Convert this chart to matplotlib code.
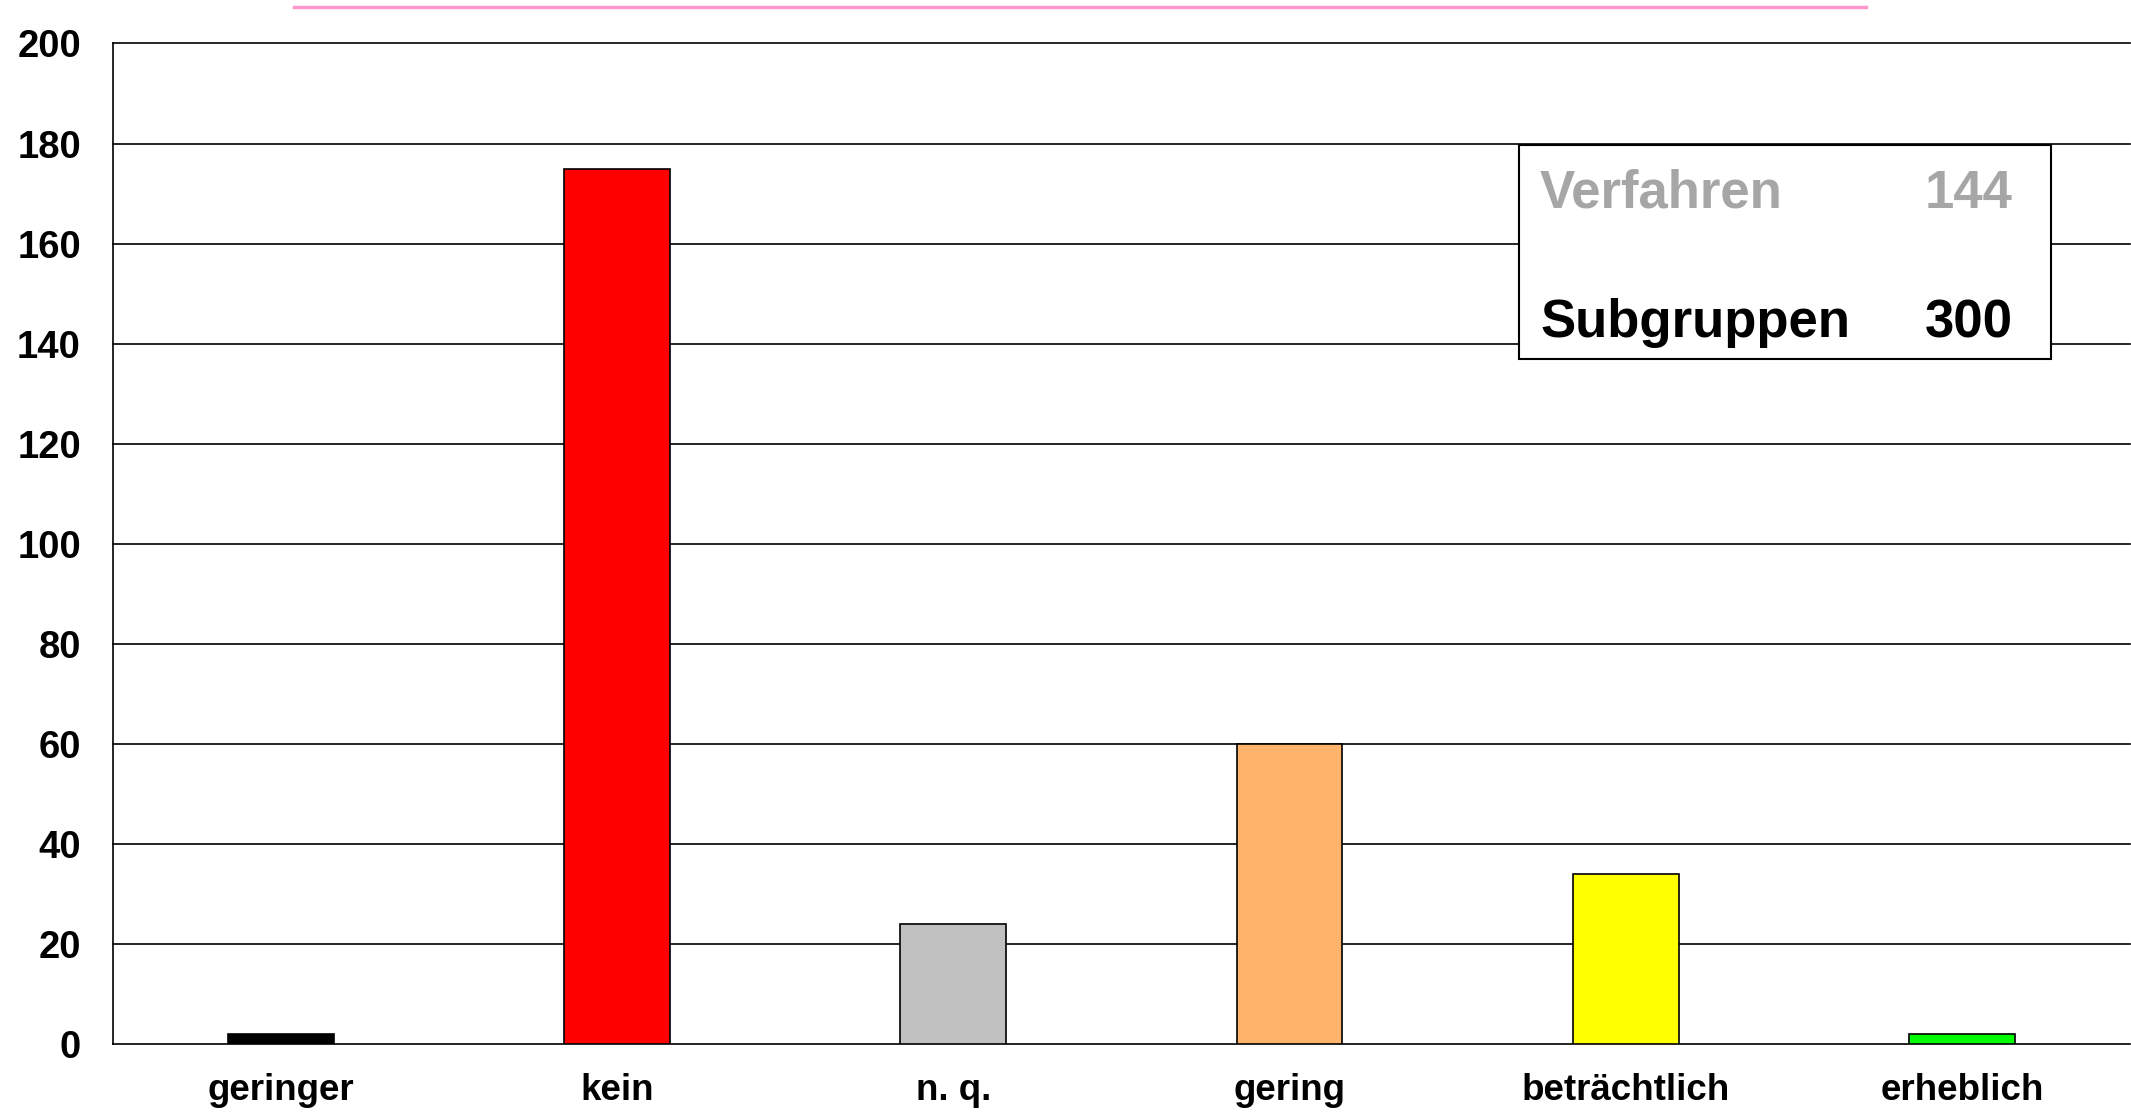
import matplotlib.pyplot as plt
import matplotlib.lines as mlines
import numpy as np

plt.rcParams['font.family'] = ['Liberation Sans', 'DejaVu Sans']

categories = ["geringer", "kein", "n. q.", "gering", "beträchtlich", "erheblich"]
values = [2, 175, 24, 60, 34, 2]
colors = ["#000000", "#ff0000", "#c0c0c0", "#ffb36b", "#ffff00", "#00ff00"]
yticks = [0, 20, 40, 60, 80, 100, 120, 140, 160, 180, 200]
box_labels = ["Verfahren", "Subgruppen"]
box_values = ["144", "300"]

fig = plt.figure(figsize=(21.31, 11.12), dpi=100)
ax = fig.add_axes([0.053, 0.0612, 0.9465, 0.8997])

x = np.arange(len(categories))
ax.bar(x, values, width=0.315, color=colors, edgecolor="black", linewidth=1.2, zorder=3)

ax.set_xlim(-0.5, 5.5)
ax.set_ylim(0, 200)
ax.set_yticks(yticks)
ax.set_xticks(x)
ax.set_xticklabels(categories)
for y in yticks[1:]:
    ax.axhline(y, color="black", linewidth=1.2, zorder=1, clip_on=False)

for s in ["top", "right"]:
    ax.spines[s].set_visible(False)
ax.spines["left"].set_linewidth(1.2)
ax.spines["bottom"].set_linewidth(1.2)
ax.tick_params(axis="both", length=0)
ax.tick_params(axis="y", pad=23, labelsize=27.5)
ax.tick_params(axis="x", pad=21, labelsize=26.5)
for lbl in ax.get_xticklabels() + ax.get_yticklabels():
    lbl.set_fontweight("bold")

# info box
box = plt.Rectangle((1519 / 2131, 1 - 359 / 1112), (2051 - 1519) / 2131, (359 - 145) / 1112,
                    transform=fig.transFigure, facecolor="white", edgecolor="black",
                    linewidth=1.5, zorder=5)
fig.patches.append(box)
fig.text(1540 / 2131, 1 - 208 / 1112, box_labels[0], color="#a6a6a6", fontsize=38,
         fontweight="bold", va="baseline", ha="left", zorder=6)
fig.text(2013 / 2131, 1 - 208 / 1112, box_values[0], color="#a6a6a6", fontsize=38,
         fontweight="bold", va="baseline", ha="right", zorder=6)
fig.text(1540 / 2131, 1 - 337 / 1112, box_labels[1], color="black", fontsize=38,
         fontweight="bold", va="baseline", ha="left", zorder=6)
fig.text(2013 / 2131, 1 - 337 / 1112, box_values[1], color="black", fontsize=38,
         fontweight="bold", va="baseline", ha="right", zorder=6)

# pink line at the top
fig.add_artist(mlines.Line2D([294 / 2131, 1866 / 2131], [1 - 7 / 1112, 1 - 7 / 1112],
                             color="#ff99cc", linewidth=2.5, transform=fig.transFigure))

fig.savefig("out.png", dpi=100)
